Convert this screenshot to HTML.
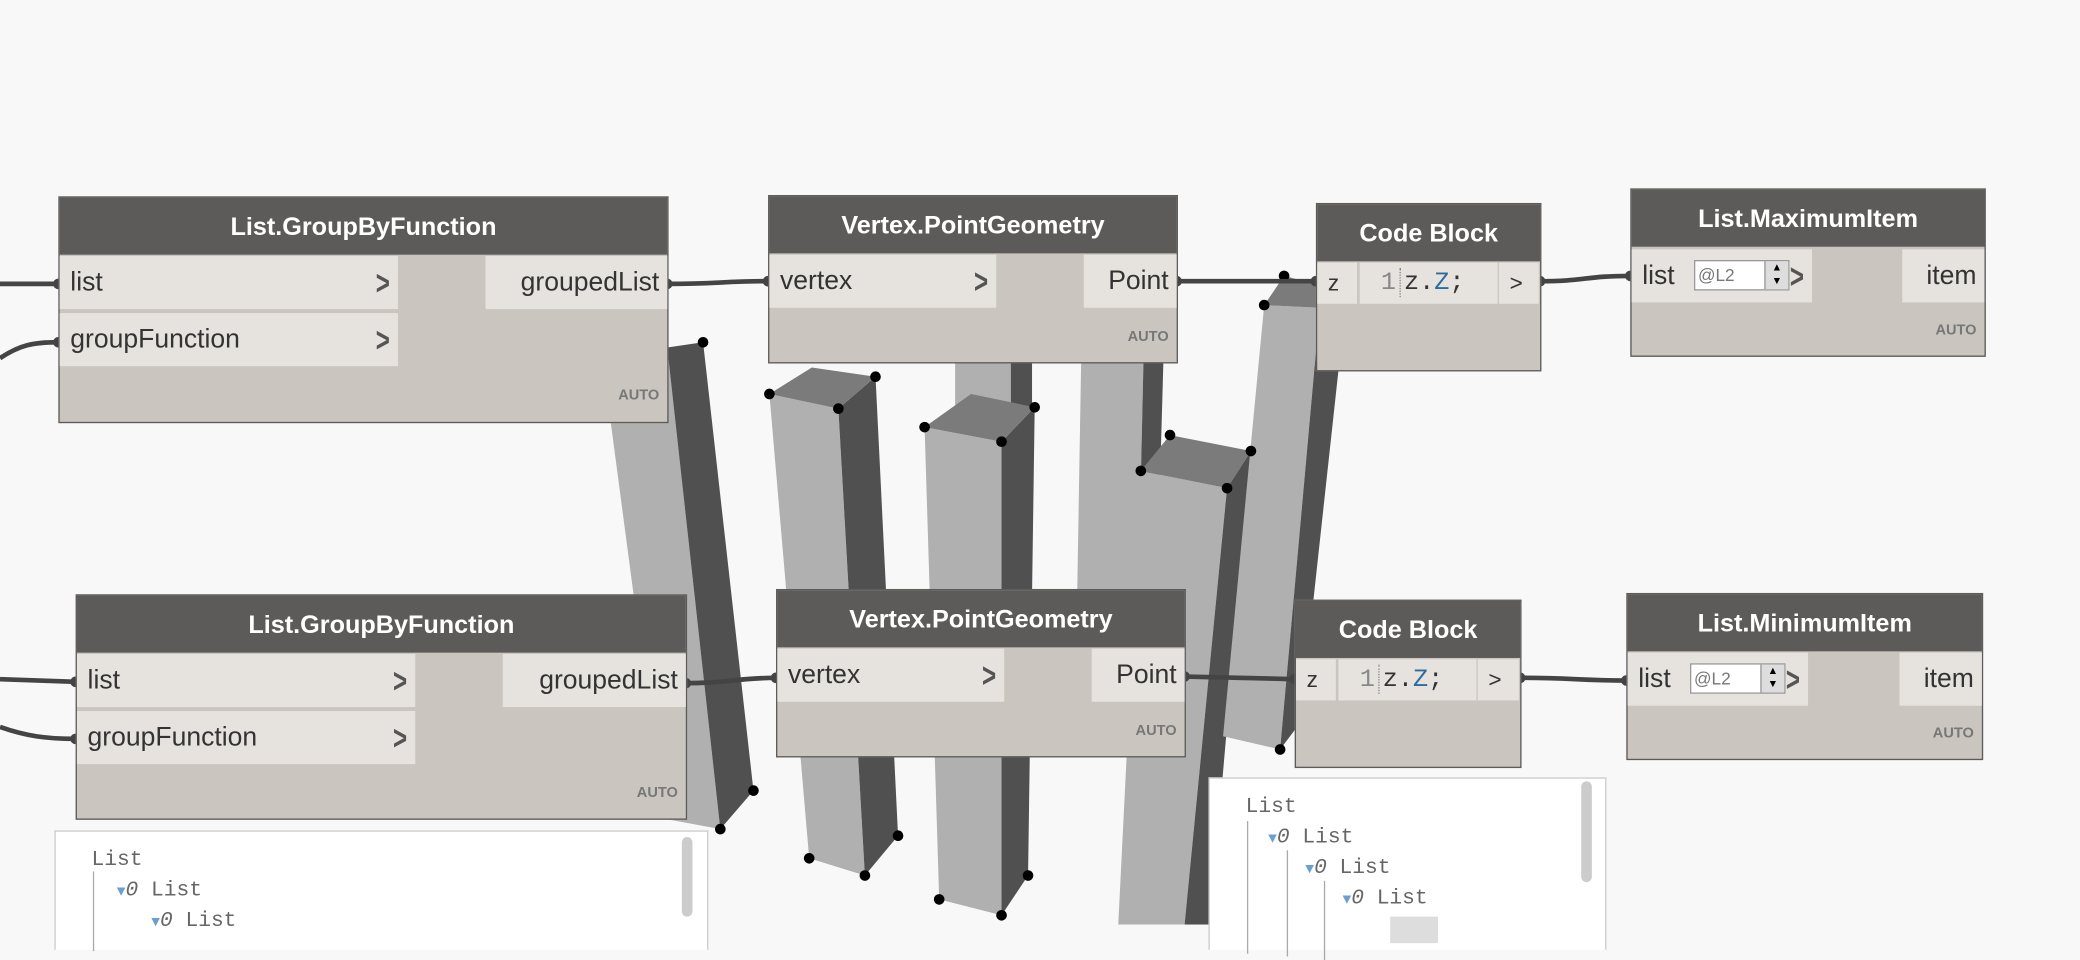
<!DOCTYPE html>
<html><head><meta charset="utf-8"><style>
*{box-sizing:border-box;margin:0;padding:0}
html,body{width:2080px;height:925px;overflow:hidden;background:#f8f8f8}
#w{position:absolute;left:0;top:0;width:1568px;height:697px;transform:scale(1.32653);transform-origin:0 0;font-family:"Liberation Sans",sans-serif}
svg{position:absolute;left:0;top:0}
.n{position:absolute;background:#cac6bf;border:1.5px solid #5d5b59}
.h{position:absolute;left:0;top:0;right:0;background:#5d5b59;color:#fff;font-weight:bold;font-size:19px;text-align:center}
.p{position:absolute;background:#e6e3de;color:#333;font-size:20px;padding-left:8px}
.o{position:absolute;background:#e6e3de;color:#333;font-size:20px;text-align:right;padding-right:6px}
.ch{position:absolute;right:4px;top:0;font-weight:bold;color:#555;font-size:26px;transform:scaleX(0.7)}
.a{position:absolute;right:6px;font-size:11px;font-weight:bold;color:#777}
.pv{position:absolute;background:#fff;border:1px solid #ccc;border-bottom:none;font-family:"Liberation Mono",monospace;font-size:16px;color:#666}
.pv div{position:absolute;white-space:pre}
.tri{color:#6a9fd0;font-size:11px}
.sb{position:absolute;width:8px;background:#ccc;border-radius:4px}
.spin{position:absolute;background:#fff;border:1px solid #999;font-size:13px;color:#777;padding-left:2px}
</style></head><body><div id="w">
<svg width="1568" height="697" viewBox="0 0 1568 697">
<g>
<polygon points="452,255 503,262 543,625 500,617" fill="#b0b0b0"/>
<polygon points="503,262 530,258 568,596 543,625" fill="#505050"/>
<polygon points="720,273 762,273 762,310 720,310" fill="#b0b0b0"/>
<polygon points="762,273 778,273 778,310 762,310" fill="#505050"/>
<polygon points="815,273 862,273 858,450 812,450" fill="#b0b0b0"/>
<polygon points="862,273 877,273 872,450 858,450" fill="#505050"/>
<polygon points="580,297 632,308 652,660 610,647" fill="#b0b0b0"/>
<polygon points="632,308 660,284 677,630 652,660" fill="#505050"/>
<polygon points="580,297 612,277 660,284 632,308" fill="#7b7b7b"/>
<polygon points="697,322 755,333 755,690 708,678" fill="#b0b0b0"/>
<polygon points="755,333 780,307 775,660 755,690" fill="#505050"/>
<polygon points="697,322 732,297 780,307 755,333" fill="#7b7b7b"/>
<polygon points="860,355 925,368 893,697 843,697" fill="#b0b0b0"/>
<polygon points="925,368 943,340 912,697 893,697" fill="#505050"/>
<polygon points="860,355 882,328 943,340 925,368" fill="#7b7b7b"/>
<polygon points="953,230 995,232 965,565 922,555" fill="#b0b0b0"/>
<polygon points="995,232 1010,270 980,545 965,565" fill="#505050"/>
<polygon points="953,230 968,208 995,215 995,232" fill="#7b7b7b"/>
</g>
<g fill="#000">
<circle cx="530" cy="258" r="4"/><circle cx="543" cy="625" r="4"/><circle cx="568" cy="596" r="4"/>
<circle cx="580" cy="297" r="4"/><circle cx="632" cy="308" r="4"/><circle cx="660" cy="284" r="4"/><circle cx="610" cy="647" r="4"/><circle cx="652" cy="660" r="4"/><circle cx="677" cy="630" r="4"/>
<circle cx="697" cy="322" r="4"/><circle cx="755" cy="333" r="4"/><circle cx="780" cy="307" r="4"/><circle cx="708" cy="678" r="4"/><circle cx="755" cy="690" r="4"/><circle cx="775" cy="660" r="4"/>
<circle cx="860" cy="355" r="4"/><circle cx="882" cy="328" r="4"/><circle cx="943" cy="340" r="4"/><circle cx="925" cy="368" r="4"/>
<circle cx="968" cy="208" r="4"/><circle cx="953" cy="230" r="4"/><circle cx="965" cy="565" r="4"/>
</g>
<g stroke="#444" stroke-width="3.5" fill="none">
<path d="M0,214 L44,214"/><path d="M0,270 C15,260 25,258 44,258"/>
<path d="M0,512 L57,514"/><path d="M0,548 C20,555 35,557 57,557"/>
<path d="M503,214 C540,214 545,212 579,212"/><path d="M887,212 L992,212"/>
<path d="M1161,212 C1195,212 1195,208 1229,208"/>
<path d="M517,515 C550,515 555,511 585,511"/><path d="M893,510 L976,512"/>
<path d="M1146,511 C1185,511 1190,513 1226,513"/>
</g>
<g fill="#444">
<circle cx="44" cy="214" r="4"/><circle cx="44" cy="258" r="4"/><circle cx="57" cy="514" r="4"/><circle cx="57" cy="557" r="4"/>
<circle cx="503" cy="214" r="4"/><circle cx="579" cy="212" r="4"/><circle cx="887" cy="212" r="4"/><circle cx="992" cy="212" r="4"/>
<circle cx="1161" cy="212" r="4"/><circle cx="1229" cy="208" r="4"/><circle cx="517" cy="515" r="4"/><circle cx="585" cy="511" r="4"/>
<circle cx="893" cy="510" r="4"/><circle cx="976" cy="512" r="4"/><circle cx="1146" cy="511" r="4"/><circle cx="1226" cy="513" r="4"/>
</g>
</svg>

<div class="n" style="left:44px;top:148px;width:460px;height:171px">
<div class="h" style="height:43px;line-height:45px">List.GroupByFunction</div>
<div class="p" style="left:0;top:44px;width:255px;height:40px;line-height:40px">list<span class="ch">&gt;</span></div>
<div class="p" style="left:0;top:87px;width:255px;height:40px;line-height:40px">groupFunction<span class="ch">&gt;</span></div>
<div class="o" style="right:0;top:44px;width:137px;height:40px;line-height:40px">groupedList</div>
<div class="a" style="top:143px">AUTO</div></div>

<div class="n" style="left:57px;top:448px;width:461px;height:170px">
<div class="h" style="height:43px;line-height:45px">List.GroupByFunction</div>
<div class="p" style="left:0;top:44px;width:255px;height:40px;line-height:40px">list<span class="ch">&gt;</span></div>
<div class="p" style="left:0;top:87px;width:255px;height:40px;line-height:40px">groupFunction<span class="ch">&gt;</span></div>
<div class="o" style="right:0;top:44px;width:138px;height:40px;line-height:40px">groupedList</div>
<div class="a" style="top:143px">AUTO</div></div>

<div class="n" style="left:579px;top:147px;width:309px;height:127px">
<div class="h" style="height:43px;line-height:45px">Vertex.PointGeometry</div>
<div class="p" style="left:0;top:44px;width:171px;height:40px;line-height:40px">vertex<span class="ch">&gt;</span></div>
<div class="o" style="right:0;top:44px;width:70px;height:40px;line-height:40px">Point</div>
<div class="a" style="top:100px">AUTO</div></div>

<div class="n" style="left:585px;top:444px;width:309px;height:127px">
<div class="h" style="height:43px;line-height:45px">Vertex.PointGeometry</div>
<div class="p" style="left:0;top:44px;width:171px;height:40px;line-height:40px">vertex<span class="ch">&gt;</span></div>
<div class="o" style="right:0;top:44px;width:70px;height:40px;line-height:40px">Point</div>
<div class="a" style="top:100px">AUTO</div></div>

<div class="n" style="left:992px;top:153px;width:170px;height:127px">
<div class="h" style="height:43px;line-height:46px">Code Block</div>
<div class="p" style="left:0;top:44px;width:30px;height:31px;line-height:31px;font-size:17px;padding-left:8px">z</div>
<div class="p" style="left:32px;top:44px;width:104px;height:31px;line-height:31px;font-family:'Liberation Mono',monospace;font-size:19px"><span style="color:#888;padding-left:8px">1</span><span style="border-left:1px dotted #888;margin-left:3px;padding-left:2px">z.<span style="color:#2f6c9e">Z</span>;</span></div>
<div class="p" style="left:137px;top:44px;width:30px;height:31px;line-height:31px;font-size:17px">&gt;</div></div>

<div class="n" style="left:976px;top:452px;width:171px;height:127px">
<div class="h" style="height:43px;line-height:46px">Code Block</div>
<div class="p" style="left:0;top:44px;width:30px;height:31px;line-height:31px;font-size:17px;padding-left:8px">z</div>
<div class="p" style="left:32px;top:44px;width:104px;height:31px;line-height:31px;font-family:'Liberation Mono',monospace;font-size:19px"><span style="color:#888;padding-left:8px">1</span><span style="border-left:1px dotted #888;margin-left:3px;padding-left:2px">z.<span style="color:#2f6c9e">Z</span>;</span></div>
<div class="p" style="left:137px;top:44px;width:31px;height:31px;line-height:31px;font-size:17px">&gt;</div></div>

<div class="n" style="left:1229px;top:142px;width:268px;height:127px">
<div class="h" style="height:43px;line-height:45px">List.MaximumItem</div>
<div class="p" style="left:0;top:45px;width:136px;height:40px;line-height:40px">list<span class="ch">&gt;</span></div>
<div class="spin" style="left:47px;top:53px;width:72px;height:23px;line-height:21px">@L2<span style="position:absolute;right:0;top:0;width:18px;height:21px;background:#ddd;border-left:1px solid #999;font-size:8px;line-height:10px;text-align:center;color:#000">▲<br>▼</span></div>
<div class="o" style="right:0;top:45px;width:62px;height:40px;line-height:40px">item</div>
<div class="a" style="top:100px">AUTO</div></div>

<div class="n" style="left:1226px;top:447px;width:269px;height:126px">
<div class="h" style="height:43px;line-height:45px">List.MinimumItem</div>
<div class="p" style="left:0;top:44px;width:136px;height:40px;line-height:40px">list<span class="ch">&gt;</span></div>
<div class="spin" style="left:47px;top:52px;width:72px;height:23px;line-height:21px">@L2<span style="position:absolute;right:0;top:0;width:18px;height:21px;background:#ddd;border-left:1px solid #999;font-size:8px;line-height:10px;text-align:center;color:#000">▲<br>▼</span></div>
<div class="o" style="right:0;top:44px;width:62px;height:40px;line-height:40px">item</div>
<div class="a" style="top:99px">AUTO</div></div>

<div class="pv" style="left:41px;top:626px;width:493px;height:90px">
<div style="left:27px;top:12px">List</div>
<div style="left:28px;top:30px;width:1px;height:60px;border-left:1px solid #aaa"></div>
<div style="left:46px;top:35px"><span class="tri">▼</span><i>0</i> List</div>
<div style="left:72px;top:58px"><span class="tri">▼</span><i>0</i> List</div>
<div class="sb" style="left:472px;top:4px;height:60px"></div></div>

<div class="pv" style="left:911px;top:586px;width:300px;height:130px">
<div style="left:27px;top:12px">List</div>
<div style="left:28px;top:32px;width:1px;height:100px;border-left:1px solid #aaa"></div>
<div style="left:44px;top:35px"><span class="tri">▼</span><i>0</i> List</div>
<div style="left:58px;top:54px;width:1px;height:80px;border-left:1px solid #aaa"></div>
<div style="left:72px;top:58px"><span class="tri">▼</span><i>0</i> List</div>
<div style="left:86px;top:77px;width:1px;height:60px;border-left:1px solid #aaa"></div>
<div style="left:100px;top:81px"><span class="tri">▼</span><i>0</i> List</div>
<div style="left:136px;top:104px;background:#ddd;width:36px;height:20px"></div>
<div class="sb" style="left:280px;top:2px;height:76px"></div></div>
</div></body></html>
